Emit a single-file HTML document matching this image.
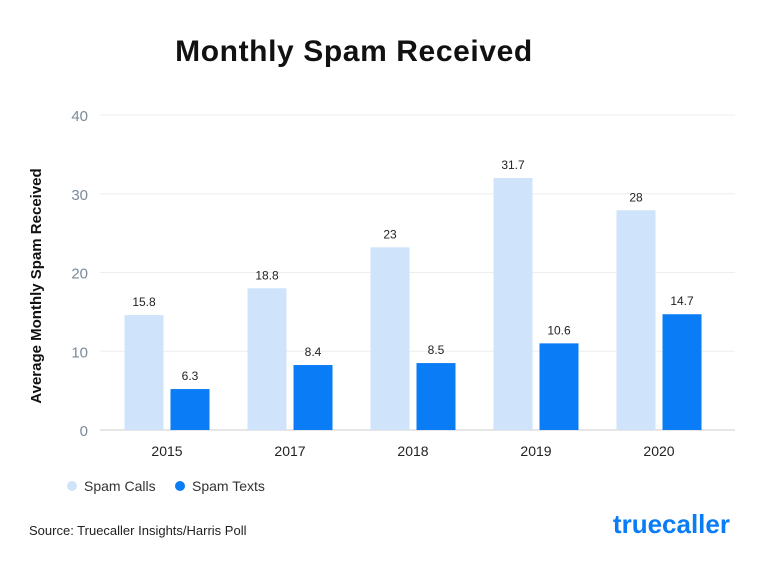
<!DOCTYPE html>
<html><head><meta charset="utf-8"><style>
body{margin:0;background:#fff;font-family:"Liberation Sans",sans-serif;}
svg text{font-family:"Liberation Sans",sans-serif;}
</style></head><body>
<svg id="chart" width="768" height="572">
<rect width="768" height="572" fill="#fff"/>
<text x="354" y="61" text-anchor="middle" font-size="30" font-weight="bold" letter-spacing="0.6" fill="#111">Monthly Spam Received</text>
<text transform="translate(41,286) rotate(-90)" text-anchor="middle" font-size="15" font-weight="bold" fill="#111">Average Monthly Spam Received</text>
<g id="grid"></g><g id="bars"></g>
<g>
<circle cx="72" cy="486" r="5" fill="#cfe3fb"/>
<text x="84" y="491" font-size="14" fill="#333">Spam Calls</text>
<circle cx="180" cy="486" r="5" fill="#0a7cf5"/>
<text x="192" y="491" font-size="14" fill="#333">Spam Texts</text>
</g>
<text x="29" y="535" font-size="13" fill="#222">Source: Truecaller Insights/Harris Poll</text>
<text x="730" y="533" text-anchor="end" font-size="26" font-weight="bold" fill="#0a7cf5">truecaller</text>
</svg>
<script>
const categories=["2015","2017","2018","2019","2020"];
const callsValues=[14.6,18.0,23.2,32.0,27.9];
const textsValues=[5.2,8.25,8.5,11.0,14.7];
const callsLabels=["15.8","18.8","23","31.7","28"];
const textsLabels=["6.3","8.4","8.5","10.6","14.7"];
const yTicks=[0,10,20,30,40];
const NS="http://www.w3.org/2000/svg";
const y0=430,y40=115,xL=100,xR=735,step=123,firstC=167;
function yS(v){return y0-(v/40)*(y0-y40);}
function xC(i){return firstC+i*step;}
function mk(tag,attrs,parent,txt){const e=document.createElementNS(NS,tag);for(const k in attrs)e.setAttribute(k,attrs[k]);if(txt!==undefined)e.textContent=txt;parent.appendChild(e);return e;}
const grid=document.getElementById('grid'),bars=document.getElementById('bars');
yTicks.forEach(t=>{
 const l=mk('line',{x1:xL,x2:xR,y1:yS(t),y2:yS(t),stroke:t===0?'#ccc':'#eee','stroke-width':1},grid);
 
 
 const tx=mk('text',{x:88,y:yS(t)+6,'text-anchor':'end','font-size':15,fill:'#7a8a9a'},grid,String(t));
 
 
});
const bw=39,gap=7;
categories.forEach((c,i)=>{
 const cx=xC(i);
 const xa=cx-gap/2-bw, xb=cx+gap/2;
 const ra=mk('rect',{x:xa,y:yS(callsValues[i]),width:bw,height:y0-yS(callsValues[i]),fill:'#cfe3fb'},bars);
 
 
 const rb=mk('rect',{x:xb,y:yS(textsValues[i]),width:bw,height:y0-yS(textsValues[i]),fill:'#0a7cf5'},bars);
 
 
 const la=mk('text',{x:xa+bw/2,y:yS(callsValues[i])-9,'text-anchor':'middle','font-size':12,fill:'#222'},bars,callsLabels[i]);
 
 
 const lb=mk('text',{x:xb+bw/2,y:yS(textsValues[i])-9,'text-anchor':'middle','font-size':12,fill:'#222'},bars,textsLabels[i]);
 
 
 const xt=mk('text',{x:cx,y:456,'text-anchor':'middle','font-size':14,fill:'#222'},bars,c);
 
 
});
</script>
</body></html>
